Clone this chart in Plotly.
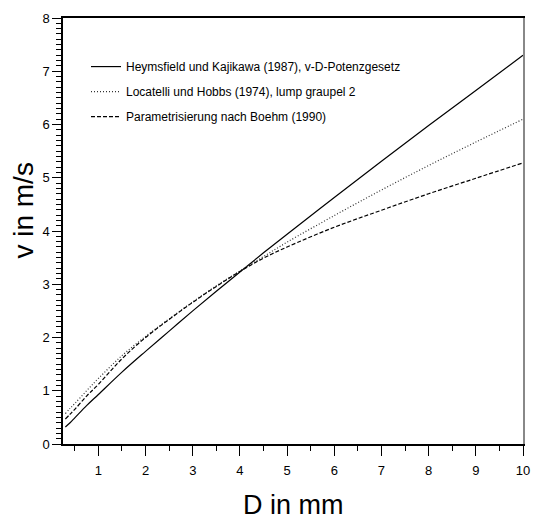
import plotly.graph_objects as go

D = [0.3, 0.4, 0.5, 0.75, 1, 1.5, 2, 2.5, 3, 3.5, 4, 4.5, 5, 6, 7, 8, 9, 10]
v_heymsfield = [0.32, 0.40, 0.49, 0.72, 0.93, 1.35, 1.74, 2.12, 2.50, 2.87, 3.23, 3.59, 3.94, 4.63, 5.31, 5.98, 6.64, 7.30]
v_locatelli = [0.57, 0.67, 0.76, 1.00, 1.23, 1.66, 2.02, 2.35, 2.67, 2.97, 3.25, 3.52, 3.79, 4.29, 4.77, 5.23, 5.67, 6.10]
v_boehm = [0.47, 0.56, 0.65, 0.90, 1.12, 1.60, 2.00, 2.34, 2.66, 2.96, 3.24, 3.49, 3.70, 4.07, 4.39, 4.70, 4.99, 5.28]

names = ["Heymsfield und Kajikawa (1987), v-D-Potenzgesetz",
         "Locatelli und Hobbs (1974), lump graupel 2",
         "Parametrisierung nach Boehm (1990)"]

FONT = "Liberation Sans, Arial, sans-serif"

fig = go.Figure()
fig.add_trace(go.Scatter(x=D, y=v_heymsfield, mode="lines", name=names[0], legendgroup="a",
                         line=dict(color="black", width=1.2, shape="spline")))
fig.add_trace(go.Scatter(x=D, y=v_locatelli, mode="lines", name=names[1], legendgroup="b",
                         line=dict(color="#333333", width=1.2, dash="1px,2px", shape="spline")))
fig.add_trace(go.Scatter(x=D, y=v_boehm, mode="lines", name=names[2], legendgroup="c",
                         line=dict(color="black", width=1.2, dash="4px,2px", shape="spline")))
# invisible trace to draw right-side gray frame line
fig.add_trace(go.Scatter(x=[None], y=[None], yaxis="y2", showlegend=False, hoverinfo="skip"))

fig.update_layout(
    width=536, height=523,
    margin=dict(l=63, r=6, t=18, b=79),
    paper_bgcolor="white", plot_bgcolor="white",
    font=dict(family=FONT, size=14, color="black"),
    showlegend=True,
    legend=dict(x=0.05, y=0.92, xanchor="left", yanchor="top",
                bgcolor="rgba(0,0,0,0)", font=dict(family=FONT, size=12),
                tracegroupgap=6, itemwidth=30),
    xaxis=dict(range=[0.25, 10], showgrid=False, zeroline=False,
               showline=True, linecolor="black", linewidth=1.5, mirror=True,
               tickmode="array", tickvals=[1, 2, 3, 4, 5, 6, 7, 8, 9, 10],
               ticks="outside", ticklen=10, tickwidth=1, tickcolor="black",
               ticklabeloverflow="allow", ticklabelstandoff=4,
               minor=dict(tickvals=[0.5, 1.5, 2.5, 3.5, 4.5, 5.5, 6.5, 7.5, 8.5, 9.5],
                          ticks="outside", ticklen=5, tickcolor="black"),
               tickfont=dict(family=FONT, size=13)),
    yaxis=dict(range=[0, 8], showgrid=False, zeroline=False,
               showline=True, linecolor="black", linewidth=1.5,
               tickmode="array", tickvals=[0, 1, 2, 3, 4, 5, 6, 7, 8],
               ticks="outside", ticklen=9, tickwidth=1, tickcolor="black",
               minor=dict(dtick=0.1, ticks="outside", ticklen=5, tickcolor="black"),
               tickfont=dict(family=FONT, size=13)),
    yaxis2=dict(overlaying="y", side="right", range=[0, 8], showgrid=False, zeroline=False,
                showline=True, linecolor="#888888", linewidth=1.5, showticklabels=False, ticks=""),
    annotations=[
        dict(text="D in mm", xref="paper", yref="paper", x=0.5, y=-0.143,
             xanchor="center", yanchor="middle", showarrow=False,
             font=dict(family=FONT, size=27)),
        dict(text="v in m/s", xref="paper", yref="paper", x=-0.0857, y=0.547,
             xanchor="center", yanchor="middle", showarrow=False, textangle=-90,
             font=dict(family=FONT, size=28)),
    ],
)

fig.write_html("out.html")
